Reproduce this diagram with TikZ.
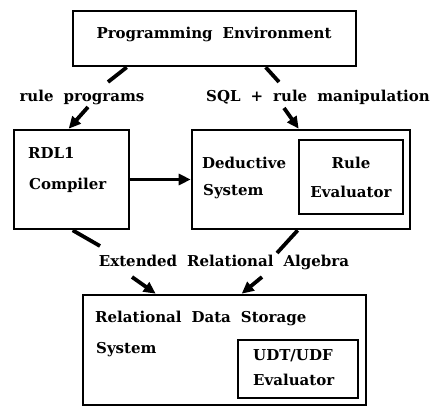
\documentclass[tikz,border=0pt]{standalone}
\usepackage{fontspec}
\setmainfont{DejaVu Serif}
\usetikzlibrary{arrows.meta}
\newcommand\lblfont{\bfseries\fontsize{15}{18}\selectfont}
\newcommand\ws{\hspace{10pt}}
\begin{document}
\begin{tikzpicture}[x=1pt,y=-1pt,
  box/.style={draw,line width=2.6pt,inner sep=0pt},
  lbl/.style={font=\lblfont,inner sep=0pt},
  stub/.style={line width=3.8pt},
  arr/.style={line width=3.8pt,-{Triangle[length=12pt,width=11pt]}}]
\useasboundingbox (0,0) rectangle (434,409);
% boxes
\node[box,minimum width=283pt,minimum height=55pt] (env) at (214.5,38.5) {};
\node[box,minimum width=115pt,minimum height=99pt] (rdl) at (71.5,179.5) {};
\node[box,minimum width=218pt,minimum height=99pt] (ded) at (301,179.5) {};
\node[box,minimum width=104pt,minimum height=74pt] (rule) at (351,177) {};
\node[box,minimum width=283pt,minimum height=110pt] (rds) at (224.5,350) {};
\node[box,minimum width=120pt,minimum height=58pt] (udt) at (298,369) {};
% texts
\node[lbl] (tenv) at (214,34) {Programming\ws Environment};
\node[lbl] (trp) at (82,97) {rule\ws programs};
\node[lbl] (tsql) at (318,97) {SQL\ws +\ws rule\ws manipulation};
\node[lbl,anchor=west] (trdl) at (28,153) {RDL1};
\node[lbl,anchor=west] (tcomp) at (29,185) {Compiler};
\node[lbl,anchor=west] (tded) at (202,163) {Deductive};
\node[lbl,anchor=west] (tsys) at (203,192) {System};
\node[lbl] (trule) at (351,163) {Rule};
\node[lbl] (teval) at (351,192) {Evaluator};
\node[lbl] (tera) at (224,262) {Extended\ws Relational\ws Algebra};
\node[lbl,anchor=west] (trds) at (95,318) {Relational\ws Data\ws Storage};
\node[lbl,anchor=west] (tsys2) at (96,350) {System};
\node[lbl,anchor=west] (tudt) at (253,356) {UDT/UDF};
\node[lbl,anchor=west] (teval2) at (253,380) {Evaluator};
% free ends
\coordinate (p1) at (108,82);
\coordinate (p2) at (88,107);
\coordinate (p3) at (279,82);
\coordinate (p4) at (284,108);
\coordinate (p5) at (100,246);
\coordinate (p6) at (277,253);
\coordinate (p7) at (132,277);
\coordinate (p8) at (262,277);
% connectors
\draw[stub] ([xshift=55pt]env.south west) -- (p1);
\draw[arr] (p2) -- ([xshift=56pt]rdl.north west);
\draw[stub] ([xshift=194pt]env.south west) -- (p3);
\draw[arr] (p4) -- ([xshift=108pt]ded.north west);
\draw[arr] (rdl.east) -- (ded.west);
\draw[stub] ([xshift=60pt]rdl.south west) -- (p5);
\draw[stub] ([xshift=107pt]ded.south west) -- (p6);
\draw[arr] (p7) -- ([xshift=74pt]rds.north west);
\draw[arr] (p8) -- ([xshift=160pt]rds.north west);
\end{tikzpicture}
\end{document}
